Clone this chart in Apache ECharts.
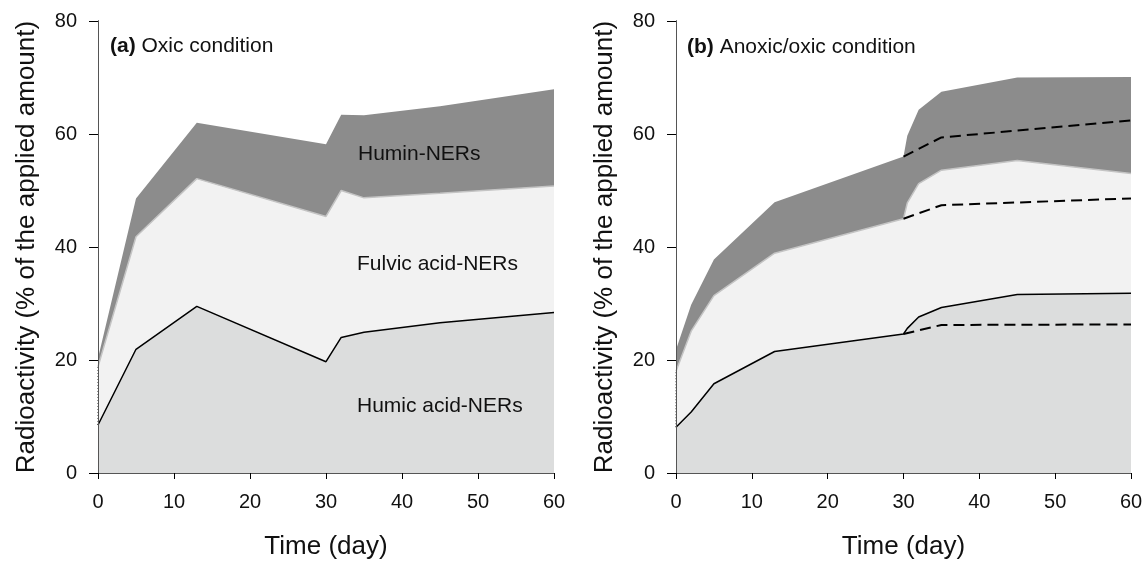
<!DOCTYPE html>
<html>
<head>
<meta charset="utf-8">
<title>NER fractions</title>
<script src="https://cdn.jsdelivr.net/npm/echarts@6/dist/echarts.min.js"></script>
<style>
  html, body { margin: 0; padding: 0; background: #fff; }
  #main { width: 1146px; height: 561px; }
</style>
</head>
<body>
<div id="main"></div>
<script>
// panel (a) oxic: upper edges of each band
var daysA = [0, 5, 13, 30, 32, 35, 45, 60];
var humicA = [8.5, 21.9, 29.5, 19.7, 24.0, 24.9, 26.6, 28.4];
var fulvicTopA = [18.8, 41.8, 52.1, 45.4, 50.0, 48.7, 49.5, 50.8];
var huminTopA = [20.3, 48.6, 62.0, 58.2, 63.4, 63.3, 64.9, 67.9];

// panel (b) anoxic/oxic
var daysB = [0, 2, 5, 13, 30, 30.5, 32, 35, 45, 60];
var humicB = [8.1, 10.8, 15.8, 21.5, 24.6, 25.6, 27.6, 29.3, 31.6, 31.8];
var fulvicTopB = [18.0, 25.1, 31.4, 38.9, 45.0, 47.8, 51.2, 53.6, 55.3, 53.0];
var huminTopB = [21.8, 29.8, 37.8, 47.9, 56.0, 59.7, 64.3, 67.5, 70.0, 70.1];

// dashed lines in (b) after day 30
var daysDash = [30, 35, 60];
var humicDash = [24.6, 26.2, 26.3];
var fulvicDash = [45.0, 47.4, 48.6];
var huminDash = [56.0, 59.4, 62.4];

var xTicks = [0, 10, 20, 30, 40, 50, 60];
var yTicks = [0, 20, 40, 60, 80];

var FONT = '"Liberation Sans", Arial, sans-serif';

function pts(xs, ys) {
  var out = [];
  for (var i = 0; i < xs.length; i++) out.push([xs[i], ys[i]]);
  return out;
}

function bottomX(grid) {
  return {
    type: 'value', gridIndex: grid, min: xTicks[0], max: xTicks[xTicks.length - 1],
    interval: xTicks[1] - xTicks[0], z: 10,
    name: 'Time (day)', nameLocation: 'middle', nameGap: 61,
    nameTextStyle: { fontFamily: FONT, fontSize: 26, color: '#111' },
    axisLine: { lineStyle: { color: '#000', width: 1 } },
    axisTick: { show: true, inside: false, length: 6, lineStyle: { color: '#000' } },
    axisLabel: { fontFamily: FONT, fontSize: 20, color: '#111', margin: 19 },
    splitLine: { show: false }
  };
}
function topX(grid) {
  return {
    type: 'value', gridIndex: grid, position: 'top', min: 0, max: 60, z: 10,
    axisLine: { lineStyle: { color: '#555', width: 1 } },
    axisTick: { show: false }, axisLabel: { show: false }, splitLine: { show: false }
  };
}
function leftY(grid) {
  return {
    type: 'value', gridIndex: grid, min: yTicks[0], max: yTicks[yTicks.length - 1],
    interval: yTicks[1] - yTicks[0], z: 10,
    name: 'Radioactivity (% of the applied amount)', nameLocation: 'middle', nameGap: 58,
    nameTextStyle: { fontFamily: FONT, fontSize: 26, color: '#111' },
    axisLine: { show: true, lineStyle: { color: '#000', width: 1 } },
    axisTick: { show: true, inside: false, length: 9, lineStyle: { color: '#000' } },
    axisLabel: { fontFamily: FONT, fontSize: 20, color: '#111', margin: 21 },
    splitLine: { show: false }
  };
}
function rightY(grid) {
  return {
    type: 'value', gridIndex: grid, position: 'right', min: 0, max: 80, z: 10,
    axisLine: { show: true, lineStyle: { color: '#555', width: 1 } },
    axisTick: { show: false }, axisLabel: { show: false }, splitLine: { show: false }
  };
}

function area(xi, yi, data, fill, edge, edgeW) {
  return {
    type: 'line', xAxisIndex: xi, yAxisIndex: yi, data: data,
    symbol: 'none', silent: true, animation: false,
    lineStyle: { color: edge, width: edgeW },
    areaStyle: { color: fill, opacity: 1 }
  };
}
function dashed(xi, yi, data) {
  return {
    type: 'line', xAxisIndex: xi, yAxisIndex: yi, data: data,
    symbol: 'none', silent: true, animation: false, z: 4,
    lineStyle: { color: '#000', width: 2, type: [11, 6] }
  };
}
function dotted(xi, yi, data) {
  return {
    type: 'line', xAxisIndex: xi, yAxisIndex: yi, data: data,
    symbol: 'none', silent: true, animation: false, z: 4,
    lineStyle: { color: '#222', width: 1, type: [1, 2] }
  };
}

var chart = echarts.init(document.getElementById('main'), null, { renderer: 'canvas' });

var option = {
  animation: false,
  backgroundColor: '#fff',
  grid: [
    { left: 98, right: 592, top: 21, bottom: 88, outerBoundsMode: 'none', containLabel: false },
    { left: 676, right: 15, top: 21, bottom: 88, outerBoundsMode: 'none', containLabel: false }
  ],
  xAxis: [bottomX(0), topX(0), bottomX(1), topX(1)],
  yAxis: [leftY(0), rightY(0), leftY(1), rightY(1)],
  series: [
    // (a)
    area(0, 0, pts(daysA, huminTopA), '#8c8c8c', '#8c8c8c', 0),
    area(0, 0, pts(daysA, fulvicTopA), '#f2f2f2', '#c4c4c4', 1.5),
    area(0, 0, pts(daysA, humicA), '#dcdddd', '#000', 1.5),
    dotted(0, 0, [[0, humicA[0]], [0, fulvicTopA[0]]]),
    // (b)
    area(2, 2, pts(daysB, huminTopB), '#8c8c8c', '#8c8c8c', 0),
    area(2, 2, pts(daysB, fulvicTopB), '#f2f2f2', '#c4c4c4', 1.5),
    area(2, 2, pts(daysB, humicB), '#dcdddd', '#000', 1.5),
    dotted(2, 2, [[0, humicB[0]], [0, fulvicTopB[0]]]),
    dashed(2, 2, pts(daysDash, humicDash)),
    dashed(2, 2, pts(daysDash, fulvicDash)),
    dashed(2, 2, pts(daysDash, huminDash))
  ],
  graphic: [
    {
      type: 'text', left: 110, top: 36, z: 20,
      style: {
        text: '{b|(a)} Oxic condition',
        font: '21px ' + FONT, fill: '#111',
        rich: { b: { fontWeight: 'bold', fontSize: 21, fontFamily: FONT } }
      }
    },
    {
      type: 'text', left: 687, top: 37, z: 20,
      style: {
        text: '{b|(b)} Anoxic/oxic condition',
        font: '21px ' + FONT, fill: '#111',
        rich: { b: { fontWeight: 'bold', fontSize: 21, fontFamily: FONT } }
      }
    },
    { type: 'text', left: 358, top: 144, z: 20, style: { text: 'Humin-NERs', font: '21px ' + FONT, fill: '#111' } },
    { type: 'text', left: 357, top: 254, z: 20, style: { text: 'Fulvic acid-NERs', font: '21px ' + FONT, fill: '#111' } },
    { type: 'text', left: 357, top: 396, z: 20, style: { text: 'Humic acid-NERs', font: '21px ' + FONT, fill: '#111' } }
  ]
};

chart.setOption(option);
</script>
</body>
</html>
